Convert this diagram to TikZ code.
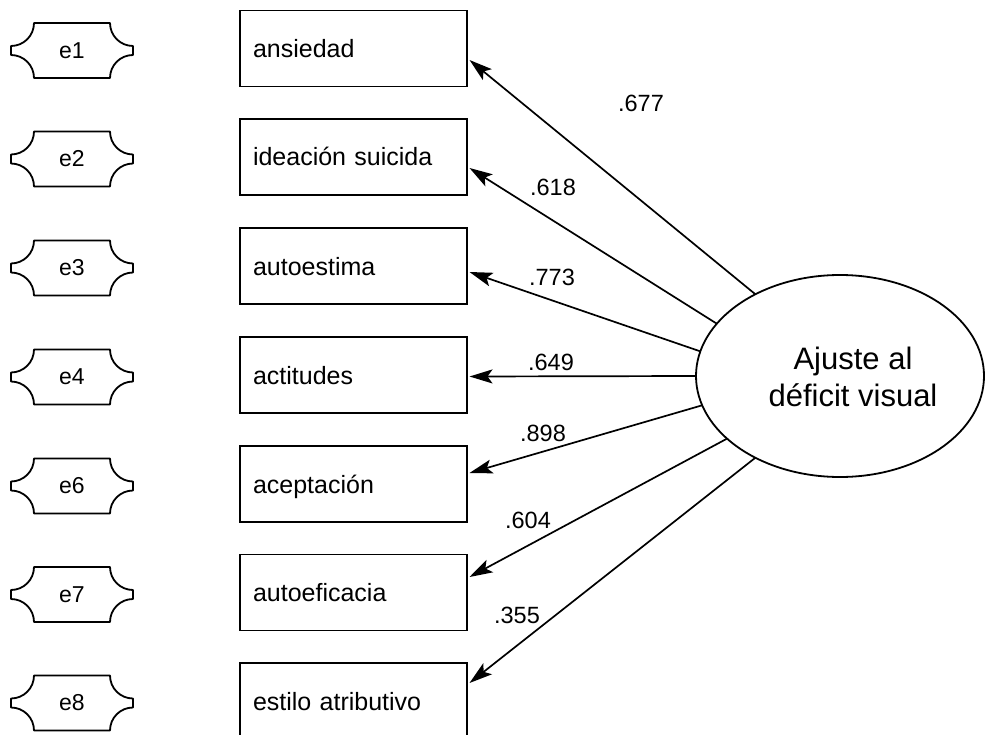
\documentclass[tikz,border=0pt]{standalone}
\usepackage{fontspec}
\setmainfont{Liberation Sans}
\usetikzlibrary{arrows.meta,calc,shapes.geometric}

\tikzset{
  varbox/.style={draw, line width=1.8pt, minimum width=227pt, minimum height=76pt,
    text width=201pt, inner xsep=13pt, inner ysep=0pt, align=left,
    text height=18pt, text depth=0pt, font=\fontsize{25}{30}\selectfont, outer sep=0pt},
  errlabel/.style={font=\fontsize{23}{27}\selectfont, inner sep=0pt},
  errshape/.style={line width=1.8pt, line join=round},
  latent/.style={draw, ellipse, line width=1.8pt, minimum width=288pt,
    minimum height=202pt, outer sep=0pt, inner sep=0pt},
  latlabel/.style={align=center, font=\fontsize{31}{37}\selectfont, inner sep=0pt},
  loading/.style={line width=1.7pt, -{Stealth[length=23pt,width=14pt,inset=5pt]}},
  coef/.style={font=\fontsize{23.5}{28}\selectfont, inner sep=0pt},
}

% error term: label node plus its notched outline
\newcommand\errnode[3]{%
  \node[errlabel] (#1) at (72,#2) {#3};
  \draw[errshape, shift={(#1.center)}]
    (-38,-27.5) -- (38,-27.5)
    .. controls (38,-14.8) and (48.3,-4.5) .. (61,-4.5) -- (61,4.5)
    .. controls (48.3,4.5) and (38,14.8) .. (38,27.5) -- (-38,27.5)
    .. controls (-38,14.8) and (-48.3,4.5) .. (-61,4.5) -- (-61,-4.5)
    .. controls (-48.3,-4.5) and (-38,-14.8) .. (-38,-27.5) -- cycle;
}

\begin{document}
\begin{tikzpicture}[x=1pt,y=-1pt]
  \useasboundingbox (0,0) rectangle (987,735);
  \fill[white] (0,0) rectangle (987,735);
  \clip (0,0) rectangle (987,735);

  % error terms
  \errnode{e1}{50.5}{e1}
  \errnode{e2}{159}{e2}
  \errnode{e3}{268}{e3}
  \errnode{e4}{377}{e4}
  \errnode{e6}{486}{e6}
  \errnode{e7}{594.5}{e7}
  \errnode{e8}{703}{e8}

  % observed variables
  \node[varbox] (v1) at (353.5,48.5) {ansiedad};
  \node[varbox] (v2) at (353.5,157) {ideación suicida};
  \node[varbox] (v3) at (353.5,266) {autoestima};
  \node[varbox] (v4) at (353.5,375) {actitudes};
  \node[varbox] (v5) at (353.5,484) {aceptación};
  \node[varbox] (v6) at (353.5,592.5) {autoeficacia};
  \node[varbox] (v7) at (353.5,701) {estilo atributivo};

  % latent factor
  \node[latent] (lat) at (840,376) {};
  \node[latlabel] (latl) at (853,377) {Ajuste al\\déficit visual};

  % loadings
  \draw[loading] (lat.136.7) -- ($(v1.east)+(2.5,11.5)$);
  \draw[loading] (lat.157.8) -- ($(v2.east)+(2.5,11)$);
  \draw[loading] (lat.170.4) -- ($(v3.east)+(2.5,6)$);
  \draw[loading] (lat.180)   -- ($(v4.east)+(2.5,1.5)$);
  \draw[loading] (lat.192.7) -- ($(v5.east)+(2.5,-11)$);
  \draw[loading] (lat.209.5) -- ($(v6.east)+(2.5,-15.5)$);
  \draw[loading] (lat.224)   -- ($(v7.east)+(2.5,-18)$);

  % coefficients
  \node[coef] (c1) at (641,103) {.677};
  \node[coef] (c2) at (553,187) {.618};
  \node[coef] (c3) at (552,277) {.773};
  \node[coef] (c4) at (551,362) {.649};
  \node[coef] (c5) at (543,433) {.898};
  \node[coef] (c6) at (528,520) {.604};
  \node[coef] (c7) at (517,615) {.355};
\end{tikzpicture}
\end{document}
